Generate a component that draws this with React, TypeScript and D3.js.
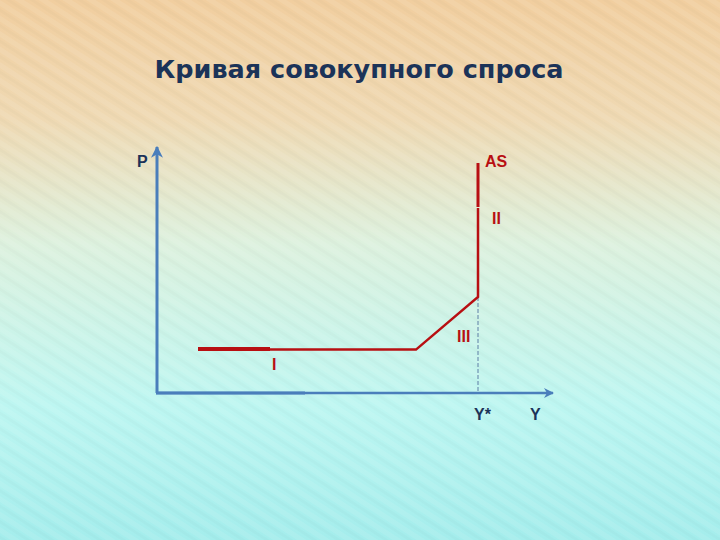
import React from "react";
import * as d3 from "d3";

const W = 720;
const H = 540;

// Curve points (data units: x = output Y, y = price level P)
const segThickX = [41, 113];
const segThinX = [113, 259];
const floorP = 44;
const diagX = [259, 321];
const diagP = [44, 96];
const asTopP = 230;
const asMidP = 185;
const yStar = 321;

const xDomain = [0, 400];
const yDomain = [0, 250];

const labels = [
  { t: "P", x: -20, y: 226, c: "navy" },
  { t: "AS", x: 328, y: 226, c: "red" },
  { t: "II", x: 335, y: 169, c: "red" },
  { t: "III", x: 300, y: 51, c: "red" },
  { t: "I", x: 115, y: 23, c: "red" },
  { t: "Y*", x: 317, y: -27, c: "navy" },
  { t: "Y", x: 373, y: -27, c: "navy" },
];

export default function App() {
  const x = d3.scaleLinear().domain(xDomain).range([157, 557]);
  const y = d3.scaleLinear().domain(yDomain).range([393, 143]);
  const line = d3.line<[number, number]>().x((d) => x(d[0])).y((d) => y(d[1]));
  const RED = "#B80F12";
  const NAVY = "#1B3358";
  const AX = "#4A7EBB";

  return (
    <svg width={W} height={H} style={{ position: "absolute", left: 0, top: 0 }}>
      <defs>
        <linearGradient id="bg" x1="0" y1="0" x2="0" y2="1">
          <stop offset="0" stopColor="#F1CE9F" />
          <stop offset="0.22" stopColor="#EFD9B3" />
          <stop offset="0.45" stopColor="#DDF1DE" />
          <stop offset="0.75" stopColor="#BDF6F1" />
          <stop offset="1" stopColor="#A4EDEC" />
        </linearGradient>
        <pattern id="stripes" width="13" height="13" patternUnits="userSpaceOnUse" patternTransform="rotate(33)">
          <rect width="13" height="5" fill="#ffffff" opacity="0.08" />
          <rect y="7" width="13" height="3" fill="#000000" opacity="0.015" />
        </pattern>
        <marker id="arr" viewBox="0 0 10 10" refX="9" refY="5" markerWidth="4" markerHeight="4" orient="auto">
          <path d="M0,0 L10,5 L0,10 L3,5 Z" fill={AX} />
        </marker>
      </defs>
      <rect width={W} height={H} fill="url(#bg)" />
      <rect width={W} height={H} fill="url(#stripes)" />

      <text x={359} y={78} textAnchor="middle" fontFamily="DejaVu Sans" fontWeight="bold" fontSize={25.5} fill={NAVY}>
        Кривая совокупного спроса
      </text>

      {/* axes */}
      <line x1={x(0)} y1={y(0)} x2={x(0)} y2={y(246)} stroke={AX} strokeWidth={3} markerEnd="url(#arr)" />
      <line x1={x(0) - 1} y1={y(0)} x2={x(396)} y2={y(0)} stroke={AX} strokeWidth={2.5} markerEnd="url(#arr)" />
      <line x1={x(0) - 1} y1={y(0)} x2={x(148)} y2={y(0)} stroke={AX} strokeWidth={3} />

      {/* dashed Y* line */}
      <line x1={x(yStar)} y1={y(diagP[1])} x2={x(yStar)} y2={y(0)} stroke="#5E7FA6" strokeWidth={1} strokeDasharray="4,2" />

      {/* AS curve */}
      <path d={line([[segThickX[0], floorP], [segThickX[1], floorP]]) || ""} stroke={RED} strokeWidth={4} fill="none" />
      <path
        d={line([[segThinX[0], floorP - 0.6], [segThinX[1], floorP - 0.6], [diagX[1], diagP[1]], [yStar, asMidP]]) || ""}
        stroke={RED}
        strokeWidth={2.5}
        fill="none"
      />
      <path d={line([[yStar, asMidP + 1], [yStar, asTopP]]) || ""} stroke={RED} strokeWidth={3} fill="none" />

      {labels.map((l) => (
        <text
          key={l.t}
          x={x(l.x)}
          y={y(l.y)}
          fontFamily="Liberation Sans, Arial, sans-serif"
          fontWeight="bold"
          fontSize={16}
          fill={l.c === "red" ? RED : NAVY}
        >
          {l.t}
        </text>
      ))}
    </svg>
  );
}
